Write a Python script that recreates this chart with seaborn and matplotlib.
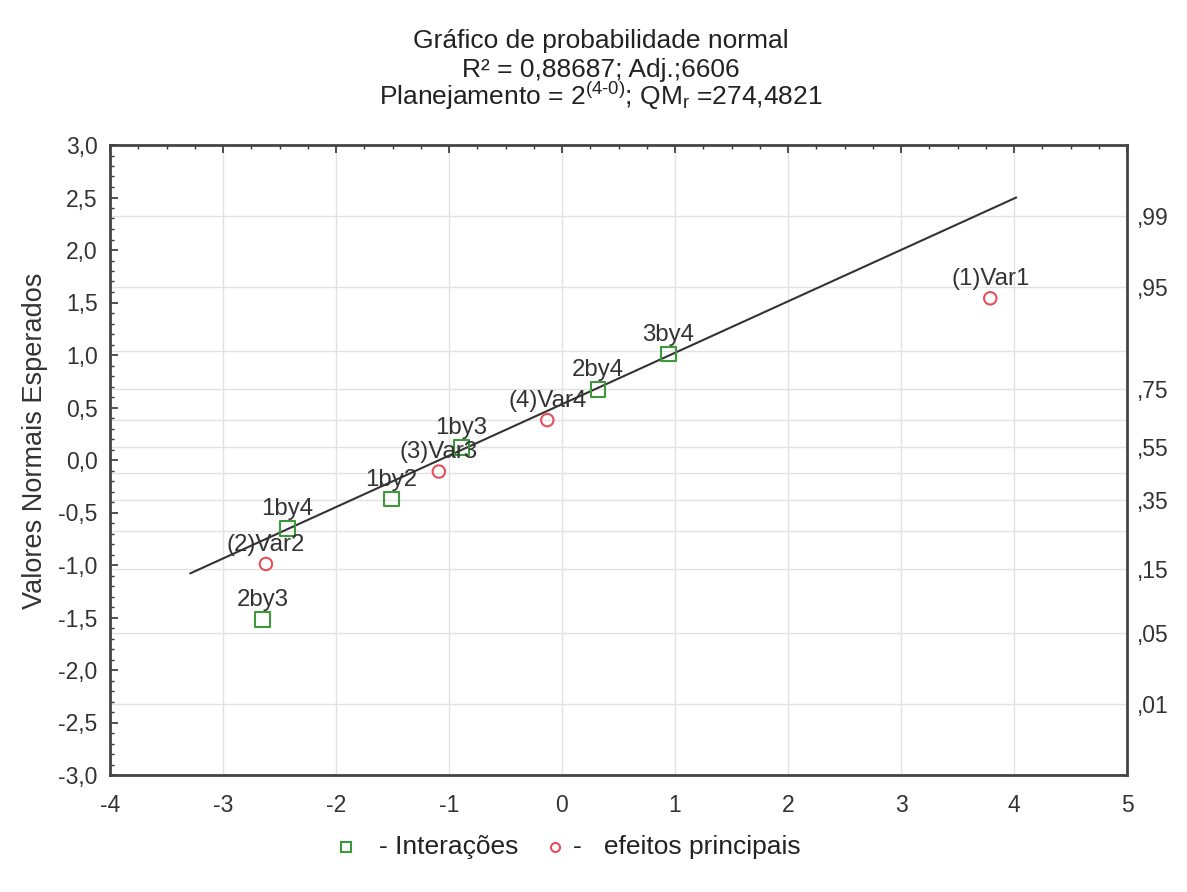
import matplotlib
matplotlib.use("Agg")
import matplotlib.pyplot as plt
import seaborn as sns
from matplotlib.lines import Line2D
from matplotlib.ticker import MultipleLocator, FuncFormatter
from statistics import NormalDist

# efeitos (x) e valores normais esperados (y)
inter_nome = ['2by3', '1by4', '1by2', '1by3', '2by4', '3by4']
inter_x = [-2.65, -2.43, -1.51, -0.89, 0.32, 0.94]
inter_y = [-1.52, -0.65, -0.37, 0.12, 0.67, 1.01]

princ_nome = ['(2)Var2', '(3)Var3', '(4)Var4', '(1)Var1']
princ_x = [-2.62, -1.09, -0.13, 3.79]
princ_y = [-0.99, -0.11, 0.38, 1.54]

# reta de referencia
reta_x = [-3.29, 4.02]
reta_y = [-1.08, 2.50]

# probabilidades do eixo direito
prob_grade = [.01, .05, .15, .25, .35, .45, .55, .65, .75, .85, .95, .99]
prob_rotulo = [.01, .05, .15, .35, .55, .75, .95, .99]

verde = '#3c9a3c'
vermelho = '#e5505c'

sns.set_style('white')
plt.rcParams['font.family'] = ['Liberation Sans', 'DejaVu Sans']
plt.rcParams['mathtext.fontset'] = 'custom'
plt.rcParams['mathtext.rm'] = 'Liberation Sans'
plt.rcParams['mathtext.it'] = 'Liberation Sans:italic'

W, H = 1187, 892
fig = plt.figure(figsize=(W / 100, H / 100), dpi=100)
ax = fig.add_axes([110 / W, 1 - 775 / H, 1017 / W, 630 / H])

# grade
for xv in range(-4, 6):
    ax.axvline(xv, color='#e2e2e2', lw=1, zorder=0)
nd = NormalDist()
for p in prob_grade:
    ax.axhline(nd.inv_cdf(p), color='#e2e2e2', lw=1, zorder=0)

ax.plot(reta_x, reta_y, color='#333333', lw=1.5, zorder=2)

sns.scatterplot(x=inter_x, y=inter_y, ax=ax, marker='s', s=110,
                facecolor='none', edgecolor=verde, linewidth=1.5, zorder=3)
sns.scatterplot(x=princ_x, y=princ_y, ax=ax, marker='o', s=80,
                facecolor='none', edgecolor=vermelho, linewidth=1.5, zorder=3)

for nome, xv, yv in zip(inter_nome + princ_nome, inter_x + princ_x, inter_y + princ_y):
    ax.annotate(nome, (xv, yv), xytext=(0, 6), textcoords='offset points',
                ha='center', va='bottom', fontsize=17.3, color='#333333', zorder=4)

ax.set_xlim(-4, 5)
ax.set_ylim(-3, 3)
ax.xaxis.set_major_locator(MultipleLocator(1))
ax.xaxis.set_minor_locator(MultipleLocator(0.25))
ax.yaxis.set_major_locator(MultipleLocator(0.5))
ax.yaxis.set_minor_locator(MultipleLocator(0.1))
ax.yaxis.set_major_formatter(FuncFormatter(lambda v, pos: ('%.1f' % v).replace('.', ',')))
ax.xaxis.set_major_formatter(FuncFormatter(lambda v, pos: '%d' % v))
ax.tick_params(which='both', direction='in', top=True, right=True,
               color='#333333', labelsize=16.5, labelcolor='#333333')
ax.tick_params(which='major', length=6, width=1.2)
ax.tick_params(which='minor', length=3, width=1)
ax.tick_params(axis='x', pad=14)
ax.tick_params(axis='y', pad=9)
for s in ax.spines.values():
    s.set_color('#444444')
    s.set_linewidth(2)

ax2 = ax.twinx()
ax2.set_ylim(-3, 3)
ax2.set_yticks([nd.inv_cdf(p) for p in prob_rotulo])
ax2.set_yticklabels([('%.2f' % p)[1:].replace('.', ',') for p in prob_rotulo])
ax2.tick_params(axis='y', length=0, pad=7, labelsize=16.5, labelcolor='#333333')
for s in ax2.spines.values():
    s.set_visible(False)

# legenda
ly = 1 - 847 / H
fig.add_artist(Line2D([346 / W], [ly], marker='s', markersize=6.5, markerfacecolor='none',
                      markeredgecolor=verde, markeredgewidth=1.5, transform=fig.transFigure))
fig.text(379 / W, ly, '- Interações', ha='left', va='center', fontsize=19, color='#222222')
fig.add_artist(Line2D([555 / W], [ly], marker='o', markersize=6.5, markerfacecolor='none',
                      markeredgecolor=vermelho, markeredgewidth=1.5, transform=fig.transFigure))
fig.text(573 / W, ly, '-   efeitos principais', ha='left', va='center', fontsize=19, color='#222222')

fig.text(35 / W, 1 - 441 / H, 'Valores Normais Esperados', rotation=90,
         ha='center', va='center', fontsize=19.5, color='#333333')

fig.text(0.506, 1 - 48 / H, 'Gráfico de probabilidade normal',
         ha='center', va='baseline', fontsize=19, color='#222222')
fig.text(0.506, 1 - 77 / H, 'R² = 0,88687; Adj.;6606',
         ha='center', va='baseline', fontsize=19, color='#222222')
fig.text(0.506, 1 - 105 / H, 'Planejamento = 2$^{\\text{(4-0)}}$; QM$_{\\mathrm{r}}$ =274,4821',
         ha='center', va='baseline', fontsize=19, color='#222222')

fig.savefig('out.png', dpi=100)
